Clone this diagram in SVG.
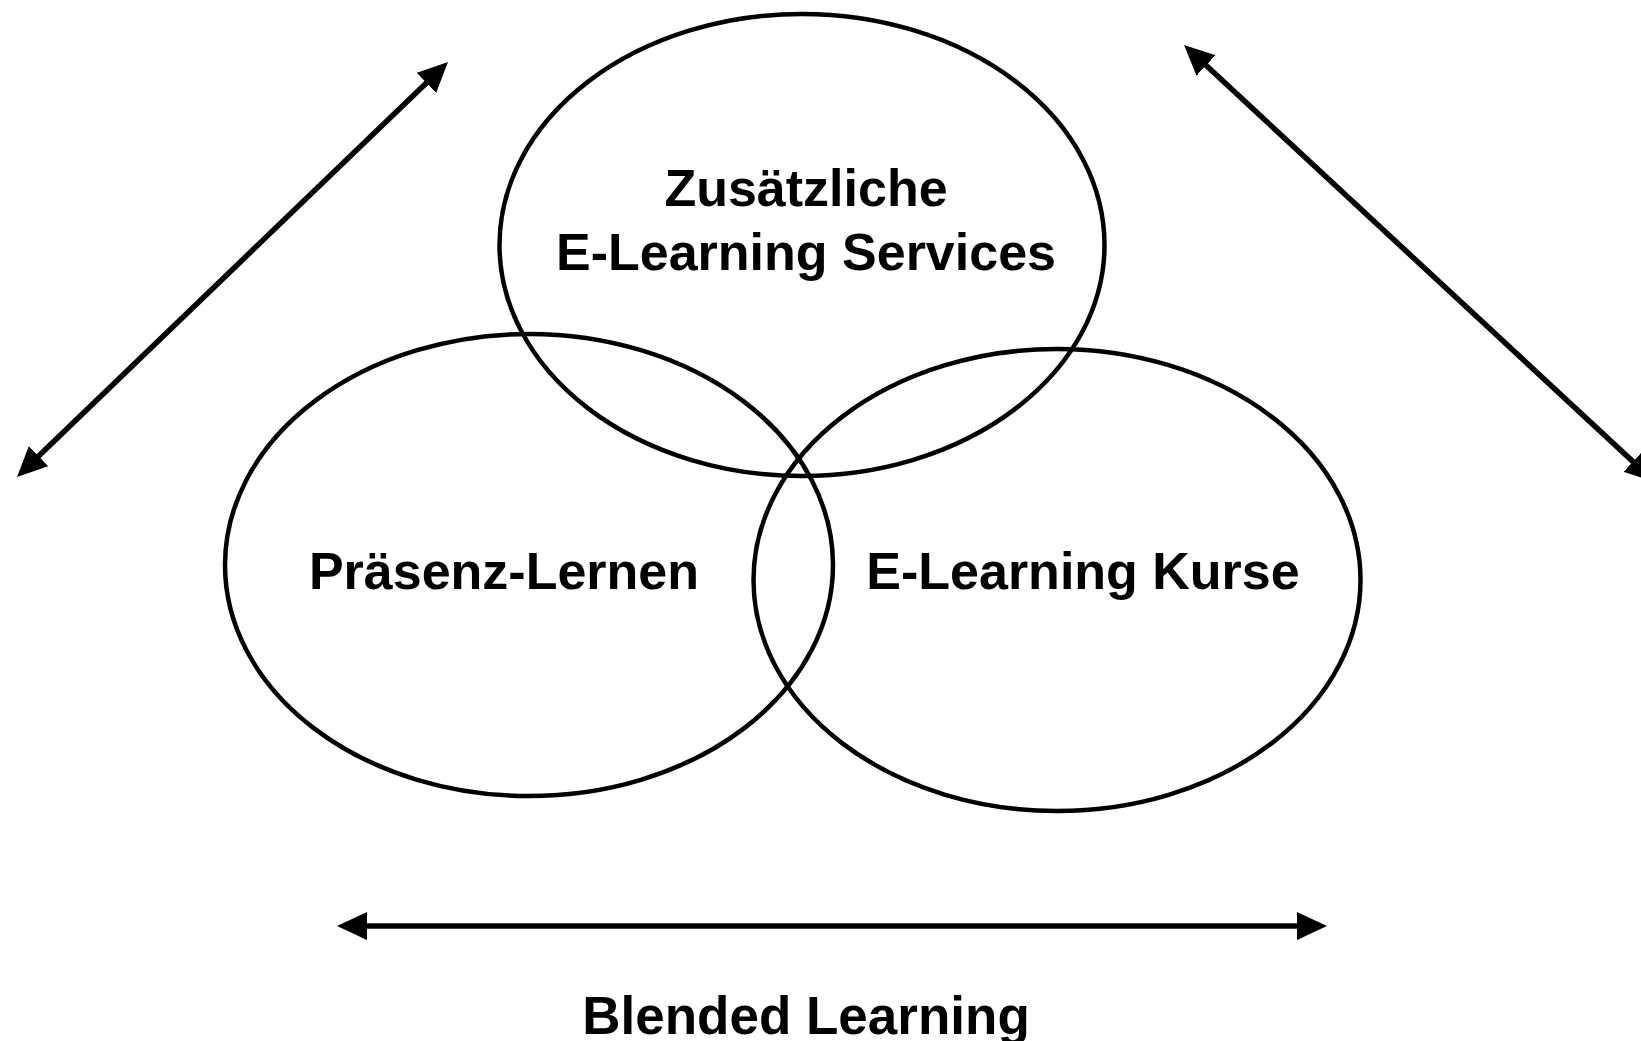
<svg xmlns="http://www.w3.org/2000/svg" width="1641" height="1041" viewBox="0 0 1641 1041">
<style>
.ell{fill:none;stroke:#000;stroke-width:4.5}
.con{stroke:#000;stroke-width:5.5;fill:none}
.lbl{font-family:"Liberation Sans",Arial,sans-serif;font-weight:bold;font-size:52px;fill:#000;text-anchor:middle}
</style>
<defs>
<marker id="ah" markerUnits="userSpaceOnUse" markerWidth="32" markerHeight="30" refX="10" refY="14" orient="auto-start-reverse" viewBox="0 0 32 30">
<path d="M0,0 L30,14 L0,28 Z" fill="#000"/>
</marker>
</defs>
<rect width="1641" height="1041" fill="#fff"/>
<g id="node-services">
<ellipse class="ell" cx="802" cy="245" rx="302.5" ry="231"/>
<text class="lbl" x="806" y="206">Zusätzliche</text>
<text class="lbl" x="806" y="270">E-Learning Services</text>
</g>
<g id="node-praesenz">
<ellipse class="ell" cx="529" cy="565" rx="304" ry="231"/>
<text class="lbl" x="504" y="589">Präsenz-Lernen</text>
</g>
<g id="node-kurse">
<ellipse class="ell" cx="1057" cy="580" rx="303.5" ry="231"/>
<text class="lbl" x="1083" y="589">E-Learning Kurse</text>
</g>
<g id="connectors">
<line class="con" x1="31.4" y1="463.1" x2="433.6" y2="75.9" marker-start="url(#ah)" marker-end="url(#ah)"/>
<line class="con" x1="1198.7" y1="58.6" x2="1640.3" y2="468.4" marker-start="url(#ah)" marker-end="url(#ah)"/>
<line class="con" x1="357" y1="926" x2="1307" y2="926" marker-start="url(#ah)" marker-end="url(#ah)"/>
</g>
<g id="label-blended">
<text class="lbl" x="806" y="1034" style="font-size:53px">Blended Learning</text>
</g>
</svg>
